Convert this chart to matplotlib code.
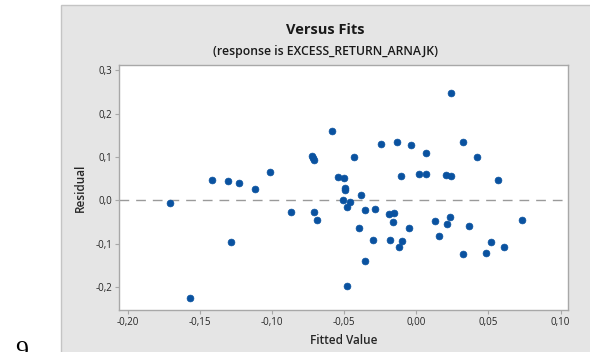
import matplotlib
matplotlib.use("Agg")
import matplotlib.pyplot as plt
from matplotlib.patches import Rectangle
from matplotlib.ticker import FuncFormatter

# Fitted values and residuals of the regression
fitted = [
    0.0243, -0.0587, -0.0246, -0.0135, -0.0038, 0.0322,
    -0.0721, -0.0715, -0.0707, -0.0429, 0.0070, 0.0417,
    -0.0545, -0.0503, -0.0109, 0.0018, 0.0070, 0.0209, 0.0239,
    0.0565, -0.0492, -0.0497, -0.0380, -0.0510, -0.0457, -0.0478,
    -0.0712, -0.0691, -0.0355, -0.0283, -0.0190, -0.0153, -0.0160,
    -0.0399, -0.0054, 0.0132, 0.0232, 0.0211, 0.0362, 0.0734,
    0.0155, -0.0297, -0.0181, -0.0102, -0.0123, 0.0515, 0.0605,
    0.0482, 0.0320, -0.0355, -0.0483,
    -0.1704, -0.1570, -0.1417, -0.1303, -0.1229, -0.1287, -0.1120,
    -0.1013, -0.0869,
]
residual = [
    0.2475, 0.1610, 0.1300, 0.1340, 0.1280, 0.1340,
    0.1020, 0.0980, 0.0936, 0.1000, 0.1090, 0.0996,
    0.0536, 0.0513, 0.0560, 0.0620, 0.0620, 0.0598, 0.0575,
    0.0467, 0.0290, 0.0230, 0.0120, 0.0020, -0.0040, -0.0146,
    -0.0276, -0.0444, -0.0215, -0.0190, -0.0314, -0.0300, -0.0490,
    -0.0636, -0.0636, -0.0467, -0.0375, -0.0550, -0.0590, -0.0444,
    -0.0828, -0.0920, -0.0920, -0.0935, -0.1080, -0.0958, -0.1065,
    -0.1210, -0.1234, -0.1400, -0.1980,
    -0.0062, -0.2250, 0.0475, 0.0450, 0.0406, -0.0958, 0.0253,
    0.0660, -0.0276,
]

x_ticks = [-0.20, -0.15, -0.10, -0.05, 0.00, 0.05, 0.10]
y_ticks = [-0.2, -0.1, 0.0, 0.1, 0.2, 0.3]

title = "Versus Fits"
subtitle = "(response is EXCESS_RETURN_ARNAJK)"
x_label = "Fitted Value"
y_label = "Residual"

plt.rcParams["font.family"] = ["Open Sans", "DejaVu Sans"]

W, H = 590, 352
fig = plt.figure(figsize=(W / 100, H / 100), dpi=100)
fig.patch.set_facecolor("white")

# grey panel behind the graph
panel = Rectangle((61.3 / W, -0.01), 1.0, 1 - 5 / H + 0.01,
                  transform=fig.transFigure, facecolor="#e5e5e5",
                  edgecolor="#c4c4c4", linewidth=1.0, zorder=-5)
fig.patches.append(panel)

ax = fig.add_axes([119.3 / W, 1 - 310 / H, 449 / W, 244.7 / H])
ax.set_zorder(2)
ax.set_facecolor("white")

ax.axhline(0.0, color="#9a9a9a", linewidth=1.0, dashes=(7, 5), zorder=1)
ax.scatter(fitted, residual, s=24, color="#0a52a0", edgecolors="#0a52a0",
           linewidths=0.5, zorder=3)

ax.set_xlim(-0.2058, 0.1053)
ax.set_ylim(-0.253, 0.312)
ax.set_xticks(x_ticks)
ax.set_yticks(y_ticks)
ax.xaxis.set_major_formatter(FuncFormatter(lambda v, p: f"{v:.2f}".replace(".", ",").replace("-0,00", "0,00")))
ax.yaxis.set_major_formatter(FuncFormatter(lambda v, p: f"{v:.1f}".replace(".", ",").replace("-0,0", "0,0")))

for s in ax.spines.values():
    s.set_color("#a8a8a8")
    s.set_linewidth(1.0)
ax.tick_params(axis="both", direction="out", length=3, width=0.8,
               color="#a8a8a8", labelsize=7, labelcolor="#262626", pad=2)

ax.set_xlabel(x_label, fontsize=8.5, fontweight="semibold", color="#262626", labelpad=4)
ax.set_ylabel(y_label, fontsize=8.5, fontweight="semibold", color="#262626", labelpad=6)

fig.text(325.5 / W, 1 - 30 / H, title, ha="center", va="center",
         fontsize=10.5, fontweight="bold", color="#1a1a1a")
fig.text(325.5 / W, 1 - 51.5 / H, subtitle, ha="center", va="center",
         fontsize=8.8, fontweight="semibold", color="#1a1a1a")

# page number of the surrounding document, cut by the image edge
fig.text(15 / W, -6 / H, "9", ha="left", va="baseline",
         fontsize=18.5, family=["Liberation Serif", "DejaVu Serif"], color="black")

fig.savefig("out.png", dpi=100)
